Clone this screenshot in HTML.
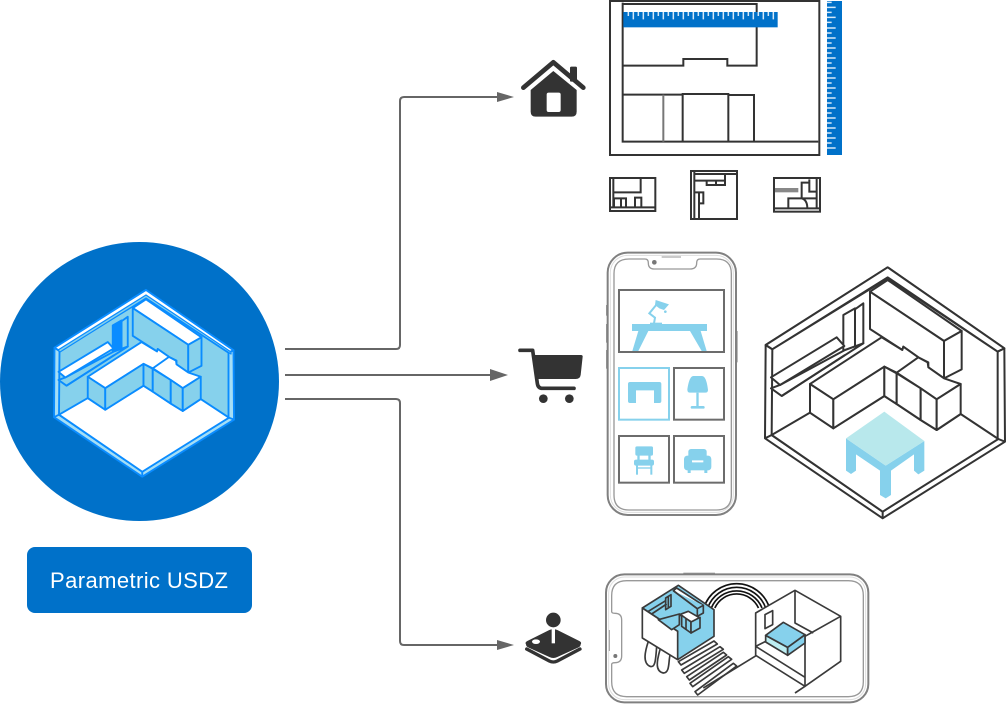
<!DOCTYPE html>
<html>
<head>
<meta charset="utf-8">
<style>
html,body{margin:0;padding:0;background:#fff}
svg{display:block}
.r *{stroke:var(--l);stroke-width:var(--sw);stroke-linejoin:round}
.d{stroke:#333;stroke-width:6;fill:none}
.g{stroke:#6c6c6c;stroke-width:6;fill:none}
.m{stroke:#3a3a3a;stroke-width:5;stroke-linejoin:round}
</style>
</head>
<body>
<svg width="1006" height="704" viewBox="0 0 1006 704" xmlns="http://www.w3.org/2000/svg">
<defs>
<g id="room" class="r">
  <polygon points="398,22 748,265 750,545 383,775 30,535 32,255" fill="var(--b)"/>
  <polygon points="32,255 398,22 748,265 728,275 398,52 52,268" fill="#fff"/>
  <polygon points="52,268 398,55 728,275 728,535 383,755 50,525" fill="var(--w)"/>
  <polygon points="50,525 165,458 235,505 388,408 425,432 497,480 545,510 617,462 730,537 383,755" fill="#fff"/>
  <line x1="30" y1="535" x2="50" y2="525"/><line x1="383" y1="755" x2="383" y2="775"/><line x1="750" y1="545" x2="730" y2="537"/><line x1="32" y1="255" x2="52" y2="268"/><line x1="748" y1="265" x2="728" y2="275"/>
  <polygon points="345,95 398,60 620,213 567,243" fill="#fff"/>
  <polygon points="345,95 567,243 567,355 520,322 520,307 490,292 445,260 442,270 345,207" fill="var(--w)"/>
  <polygon points="567,243 620,213 620,328 567,355" fill="var(--w)"/>
  <polygon points="165,372 380,232 442,270 445,260 490,292 518,307 520,322 567,355 617,372 545,418 497,385 425,338 388,320 235,418" fill="#fff"/>
  <line x1="490" y1="292" x2="425" y2="338" fill="none"/>
  <polygon points="165,372 235,418 235,505 165,458" fill="var(--w)"/>
  <polygon points="235,418 388,320 388,408 235,505" fill="var(--w)"/>
  <polygon points="388,320 425,340 425,432 388,408" fill="var(--w)"/>
  <polygon points="425,340 497,385 497,480 425,432" fill="var(--w)"/>
  <polygon points="497,385 545,418 545,510 497,480" fill="var(--w)"/>
  <polygon points="545,418 617,372 617,462 545,510" fill="var(--w)"/>
  <polygon points="300,148 325,130 325,250 300,262" fill="var(--w)"/>
  <polygon points="265,165 300,145 300,262 265,285" fill="var(--d)"/>
  <polygon points="48,385 80,408 325,250 270,270 75,375" fill="var(--w)"/>
  <polygon points="48,352 245,232 268,258 75,375" fill="#fff"/>
  <polyline points="270,285 80,408" fill="none"/>
</g>
</defs>

<!-- circle -->
<circle cx="139.5" cy="381.5" r="139.5" fill="#0071c9"/>
<use href="#room" transform="translate(46.5,284.5) scale(.25,.248)" style="--l:#0a8cff;--sw:7.5;--b:#a5def5;--w:#86d1ec;--d:#0a8cff"/>
<polygon points="58,350 146,295 231,352 231,354 146,298 60,352" fill="#86d1ec" stroke="#0a8cff" stroke-width="1.2" stroke-linejoin="round"/>

<!-- button -->
<rect x="27" y="547" width="225" height="66" rx="8" fill="#0071c9"/>
<text x="50" y="588" font-family="'Liberation Sans',sans-serif" font-size="22" fill="#fff" textLength="178">Parametric USDZ</text>

<!-- connectors -->
<g fill="none" stroke="#666" stroke-width="2">
<path d="M285,349H396q4,0 4,-4V101q0,-4 4,-4H498"/>
<path d="M285,375H491"/>
<path d="M285,399H396q4,0 4,4V641q0,4 4,4H498"/>
</g>
<g fill="#666">
<polygon points="497,92 514,97 497,102"/>
<polygon points="490,369 508,375 490,381"/>
<polygon points="497,640 514,645 497,650"/>
</g>

<!-- plans -->
<g transform="translate(510,0) scale(.33333)">
  <path d="M40,263L130,187L220,263" fill="none" stroke="#333" stroke-width="14" stroke-linecap="round" stroke-linejoin="round"/>
  <rect x="180" y="200" width="21" height="45" rx="4" fill="#333"/>
  <path d="M130,213L200,270V335q0,15 -15,15H77q-15,0 -15,-15V270Z" fill="#333"/>
  <rect x="110" y="278" width="42" height="58" rx="6" fill="#fff"/>

  <rect x="300" y="3" width="628" height="462" class="d"/>
  <path class="d" d="M338,8V197H520V177H652V197H740V12H338M338,197V425H925M340,284H518M518,425V282H655V425M655,285H732V425"/>
  <path d="M460,284V425" fill="none" stroke="#777" stroke-width="6"/>
  <rect x="340" y="36" width="463" height="46" fill="#0071c9"/>
  <path fill="none" stroke="#d5e9f8" stroke-width="4.500" d="M355,36v12M370,36v22M385,36v12M400,36v22M415,36v12M430,36v22M445,36v12M460,36v22M475,36v12M490,36v22M505,36v12M520,36v22M535,36v12M550,36v22M565,36v12M580,36v22M595,36v12M610,36v22M625,36v12M640,36v22M655,36v12M670,36v22M685,36v12M700,36v22M715,36v12M730,36v22M745,36v12M760,36v22M775,36v12M790,36v22"/>
  <rect x="951" y="3" width="45" height="462" fill="#0071c9"/>
  <path fill="none" stroke="#d5e9f8" stroke-width="4.500" d="M951,7h14M951,22h26M951,37h14M951,52h26M951,67h14M951,84h26M951,99h14M951,114h26M951,129h14M951,144h26M951,159h14M951,174h26M951,189h14M951,204h26M951,219h14M951,234h26M951,249h14M951,264h26M951,279h14M951,294h26M951,309h14M951,324h26M951,339h14M951,354h26M951,369h14M951,384h26M951,399h14M951,414h26M951,429h14M951,444h26"/>

  <rect x="300" y="534" width="136" height="99" class="d"/>
  <path class="d" d="M310,534V622M310,577H392V534M303,622H436M312,622V595H348V622M333,595V622M375,622V593H394V622"/>
  <rect x="543" y="513" width="138" height="144" class="d"/>
  <path class="d" d="M553,513V657M553,522H681M553,542H645V522M590,542V555H645V542M618,545V555M553,577H567V657M567,610H580V577H567"/>
  <rect x="792" y="534" width="138" height="101" class="d"/>
  <path class="d" d="M792,625H930M920,534V625M875,595V548H898M898,538V575H920M875,595H920M875,595H835V625M875,595Q892,600 892,625"/>
  <rect x="795" y="564" width="70" height="13" fill="#888"/>
</g>

<!-- cart + phone -->
<g transform="translate(510,245) scale(.33333)">
  <path d="M30,316H68L82,415q2,15 15,15H192" fill="none" stroke="#333" stroke-width="11" stroke-linecap="round" stroke-linejoin="round"/>
  <path d="M65,330H213q5,0 5,5L212,390q-2,12 -15,12H80Z" fill="#333"/>
  <circle cx="100" cy="461" r="13" fill="#333"/><circle cx="178" cy="461" r="13" fill="#333"/>

  <g fill="#999"><rect x="288" y="180" width="5" height="32"/><rect x="288" y="237" width="5" height="56"/><rect x="288" y="315" width="5" height="56"/><rect x="678" y="258" width="5" height="94"/></g>
  <rect x="293" y="23" width="385" height="787" rx="60" fill="#fff" stroke="#808080" stroke-width="6"/>
  <rect x="301" y="31" width="369" height="771" rx="52" fill="none" stroke="#ddd" stroke-width="3"/>
  <path d="M357,42H405q10,0 10,12q0,18 18,18H540q20,0 20,-18q0,-12 10,-12H620q44,0 44,44V750q0,45 -45,45H357q-45,0 -45,-45V86q0,-44 45,-44Z" fill="#fff" stroke="#999" stroke-width="4"/>
  <circle cx="433" cy="52" r="7" fill="#777"/>
  <path d="M455,36H513" stroke="#aaa" stroke-width="4"/>

  <rect x="327" y="135" width="315" height="186" class="g"/>
  <rect x="492" y="369" width="150" height="155" class="g"/>
  <rect x="327" y="573" width="150" height="140" class="g"/>
  <rect x="492" y="573" width="150" height="140" class="g"/>
  <rect x="327" y="369" width="150" height="155" fill="none" stroke="#86d1ec" stroke-width="6"/>
  <g fill="#86d1ec">
    <rect x="366" y="237" width="225" height="21"/>
    <polygon points="385,258 415,258 385,318 367,318"/>
    <polygon points="540,258 572,258 590,318 575,318"/>
    <rect x="420" y="233" width="36" height="5"/>
    <path d="M432,235L435,218L418,205L440,178" fill="none" stroke="#86d1ec" stroke-width="6"/>
    <polygon points="437,165 477,178 462,195 448,190 435,180"/>
    <circle cx="466" cy="200" r="4"/>
    <path d="M354,417q0,-6 6,-6h88q6,0 6,6v51q0,6 -6,6h-16v-38h-54v38h-18q-6,0 -6,-6Z"/>
    <path d="M550,393q-12,0 -18,40q0,10 8,10h46q8,0 8,-8q-5,-42 -18,-42Z"/>
    <rect x="559" y="443" width="7" height="42"/>
    <rect x="542" y="483" width="42" height="8" rx="4"/>
    <rect x="376" y="604" width="53" height="28" rx="5"/>
    <rect x="382" y="630" width="7" height="16"/><rect x="415" y="630" width="7" height="16"/>
    <rect x="372" y="644" width="60" height="18" rx="6"/>
    <rect x="378" y="660" width="6" height="29"/><rect x="421" y="660" width="6" height="29"/>
    <rect x="382" y="667" width="40" height="4"/>
    <rect x="535" y="612" width="55" height="34" rx="8"/>
    <rect x="522" y="632" width="24" height="44" rx="10"/>
    <rect x="580" y="632" width="24" height="44" rx="10"/>
    <rect x="540" y="652" width="50" height="24"/>
    <rect x="533" y="674" width="9" height="10"/><rect x="583" y="674" width="9" height="10"/>
  </g>
  <path d="M548,650H578" stroke="#fff" stroke-width="3"/>
</g>

<!-- big room -->
<use href="#room" transform="translate(755,260) scale(.33333)" style="--l:#333;--sw:6;--b:#fff;--w:#fff;--d:#fff"/>
<g transform="translate(755,260) scale(.33333)">
  <polygon points="273,535 392,617 508,543 508,632 490,643 477,632 477,583 408,632 408,705 392,715 375,705 375,632 303,583 303,632 288,642 273,632" fill="#86d1ec"/>
  <polygon points="388,455 508,543 392,617 273,535" fill="#b8e8ec"/>
</g>

<!-- joystick + landscape phone -->
<g transform="translate(510,565) scale(.33333)">
  <path d="M48,238Q44,232 52,228L118,195Q130,190 142,195L208,228Q216,232 212,238Q212,244 204,248L142,276Q130,282 118,276L56,248Q48,244 48,238Z" fill="#333"/>
  <path d="M50,252L118,288Q130,294 142,288L210,252" fill="none" stroke="#333" stroke-width="10" stroke-linecap="round"/>
  <ellipse cx="78" cy="230" rx="12" ry="7" fill="#fff"/>
  <rect x="125" y="185" width="10" height="50" fill="#fff"/>
  <circle cx="130" cy="165" r="22" fill="#333"/>

  <rect x="520" y="23" width="95" height="6" fill="#999"/>
  <rect x="288" y="28" width="787" height="384" rx="55" fill="#fff" stroke="#808080" stroke-width="6"/>
  <rect x="296" y="36" width="771" height="368" rx="48" fill="none" stroke="#ddd" stroke-width="3"/>
  <path d="M350,47H1015q45,0 45,45V350q0,45 -45,45H350q-45,0 -45,-45V298q0,-5 10,-5q20,0 20,-20V165q0,-20 -20,-20q-10,0 -10,-5V92q0,-45 45,-45Z" fill="#fff" stroke="#999" stroke-width="4"/>
  <path d="M298,195V258" stroke="#999" stroke-width="3"/>
  <circle cx="316" cy="273" r="6" fill="#777"/>

  <g transform="translate(570,39)" fill="none" stroke="#111" stroke-width="5">
    <path d="M11.500,90A103,103 0 0 1 208.500,90"/>
    <path d="M23,90A92,92 0 0 1 197,90"/>
    <path d="M34,90A82,82 0 0 1 186,90"/>
    <path d="M44.500,90A72,72 0 0 1 175.500,90"/>
  </g>

  <g transform="translate(375,39)">
    <path class="m" fill="#fff" d="M40,190C30,220 22,255 45,265C60,270 62,250 65,205M75,215C65,250 60,280 85,285C105,285 100,250 105,232"/>
    <polygon class="m" points="22,90 130,22 237,95 237,175 128,245 128,160" fill="#86d1ec"/>
    <polygon class="m" points="22,90 128,160 128,245 22,180" fill="#fff"/>
    <polygon class="m" points="115,38 125,30 205,82 187,92" fill="#fff"/>
    <path class="m" fill="#86d1ec" d="M115,38L187,92V115L205,105V82M187,92L205,82"/>
    <polygon class="m" points="92,60 108,50 108,85 92,95" fill="#86d1ec"/>
    <path class="m" fill="none" d="M100,55V90M40,100L92,68M50,108L95,78"/>
    <path class="m" fill="#86d1ec" d="M70,125L133,108V140L110,155L70,125Z"/>
    <polygon class="m" points="133,110 175,135 195,120 160,100" fill="#fff"/>
    <polygon class="m" points="140,112 168,132 168,165 140,145" fill="#86d1ec"/>
    <polygon class="m" points="168,132 195,118 195,150 168,165" fill="#86d1ec"/>
    <path class="m" fill="none" d="M153,122V155"/>
    <g class="m" fill="#fff">
      <polygon points="237,189 130,251 138,261 247,198"/>
      <polygon points="255,206 140,276 148,286 265,214"/>
      <polygon points="265,223 155,296 163,306 275,231"/>
      <polygon points="280,236 165,316 173,326 290,244"/>
      <polygon points="295,256 180,341 188,351 305,264"/>
    </g>
  </g>

  <g transform="translate(570,39)">
    <path class="m" d="M170,232L10,330" fill="none"/>
    <polygon class="m" points="167,105 285,37 422,115 422,250 315,325 167,232" fill="#fff"/>
    <path class="m" fill="none" d="M285,37V135L340,165M422,115L315,175V325M167,205L315,298M167,205L197,190M285,345L315,325"/>
    <polygon class="m" points="195,110 218,98 218,140 195,152" fill="#fff"/>
    <polygon class="m" points="197,172 263,208 263,232 197,192" fill="#bdeef2"/>
    <polygon class="m" points="263,208 315,170 315,195 263,232" fill="#86d1ec"/>
    <polygon class="m" points="197,172 250,133 315,170 263,208" fill="#86d1ec"/>
  </g>
</g>
</svg>
</body>
</html>
